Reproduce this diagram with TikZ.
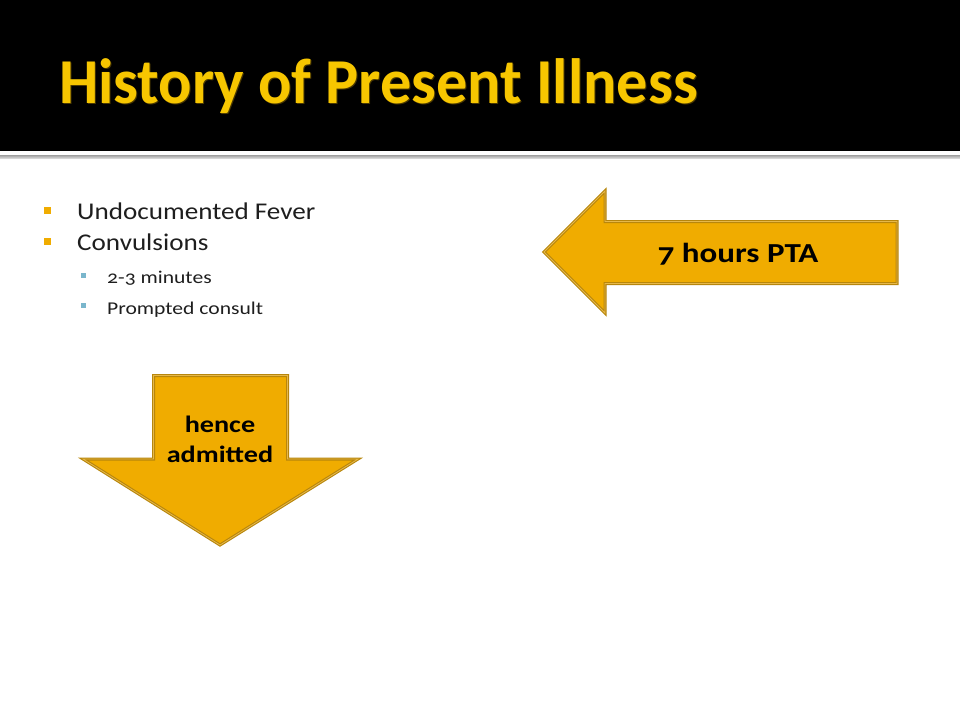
\documentclass[tikz,border=0pt]{standalone}
\usepackage{fontspec}
\setmainfont{Carlito}[Numbers=OldStyle]
\newfontfamily\titlefont{Carlito}[Numbers=OldStyle, FakeStretch=0.973]
\newfontfamily\lvlonefont{Carlito}[Numbers=OldStyle, FakeStretch=1.13]
\newfontfamily\widefont{Carlito}[Numbers=OldStyle, FakeStretch=1.2]
\definecolor{titlegold}{HTML}{F7C600}
\definecolor{titleshadow}{HTML}{4A3800}
\definecolor{arrowfill}{HTML}{F0AC00}
\definecolor{arrowedge}{HTML}{B8860B}
\definecolor{arrowinner}{HTML}{E6B84A}
\definecolor{bulletgold}{HTML}{F0AC00}
\definecolor{bulletblue}{HTML}{7AB6CC}
\definecolor{bodytext}{HTML}{1E1E1E}
\tikzset{
  arrowshape/.style={fill=arrowfill, draw=arrowedge, line width=1.1pt, double=arrowinner, double distance=0.8pt, line join=miter},
  lvlone/.style={anchor=base west, font=\lvlonefont\fontsize{24}{28}\selectfont, text=bodytext, inner sep=0pt},
  lvltwo/.style={anchor=base west, font=\widefont\fontsize{18}{20}\selectfont, text=bodytext, inner sep=0pt},
  arrowtext/.style={anchor=base, text=black, align=center, inner sep=0pt},
}
\begin{document}
\begin{tikzpicture}[x=1pt,y=-1pt]
\useasboundingbox (0,0) rectangle (960,720);
\fill[white] (0,0) rectangle (960,720);
% header
\fill[black] (0,0) rectangle (960,151);
\shade[top color=gray!75, bottom color=gray!25] (0,155) rectangle (960,158.5);
% title
\node[anchor=base west, inner sep=0pt, text=titleshadow, font=\titlefont\bfseries\fontsize{64}{70}\selectfont] (titleshadow) at (60,104) {History of Present Illness};
\node[anchor=base west, inner sep=0pt, text=titlegold, font=\titlefont\bfseries\fontsize{64}{70}\selectfont] (title) at (59,103) {History of Present Illness};
% bullets
\fill[bulletgold] (44,207) rectangle (51,214);
\node[lvlone] (b1) at (77,219) {Undocumented Fever};
\fill[bulletgold] (44,238) rectangle (51,245);
\node[lvlone] (b2) at (77,250) {Convulsions};
\fill[bulletblue] (81,273) rectangle (85.5,277.5);
\node[lvltwo] (s1) at (107,283) {2-3 minutes};
\fill[bulletblue] (81,303) rectangle (85.5,307.5);
\node[lvltwo] (s2) at (107,314) {Prompted consult};
% left arrow
\draw[arrowshape] (544,252) -- (605,191) -- (605,221.5) -- (897,221.5) -- (897,283.5) -- (605,283.5) -- (605,313) -- cycle;
\node[arrowtext, font=\widefont\bfseries\fontsize{27.5}{30}\selectfont] (pta) at (738,262.5) {7 hours PTA};
% down arrow
\draw[arrowshape] (153.5,375.5) -- (287.5,375.5) -- (287.5,459) -- (358,459) -- (220,545) -- (83,459) -- (153.5,459) -- cycle;
\node[arrowtext, font=\widefont\bfseries\fontsize{23.5}{30}\selectfont] (adm) at (220,462) {hence\\admitted};
\end{tikzpicture}
\end{document}
